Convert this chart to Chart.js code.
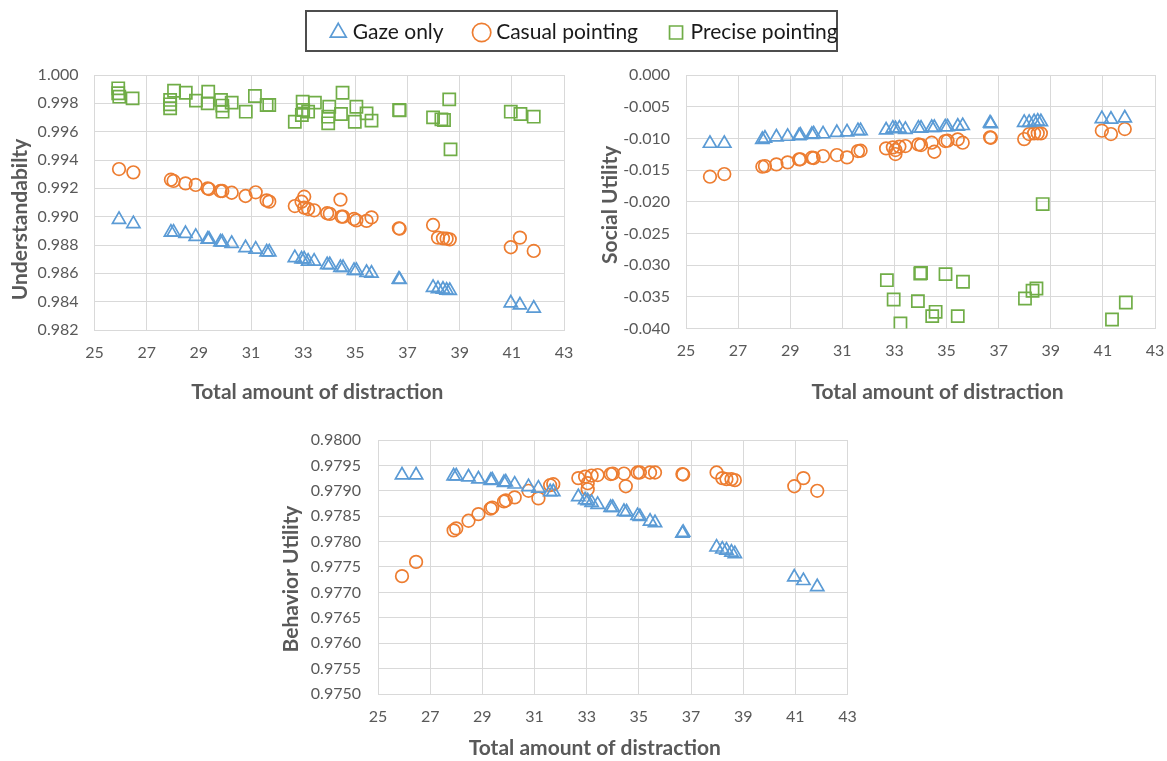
<!DOCTYPE html>
<html><head><meta charset="utf-8">
<script src="https://cdn.jsdelivr.net/npm/chart.js@4.4.1/dist/chart.umd.min.js"></script>
<style>
html,body{margin:0;padding:0;background:#fff}
body{width:1167px;height:761px;overflow:hidden;position:relative;font-family:Lato,sans-serif}
canvas{position:absolute;display:block}
#legendBox{position:absolute;left:305px;top:10px;width:529px;height:38px;border:2px solid #4d4d4d;background:#fff}
</style></head><body>
<div id="legendBox"></div>
<canvas id="lg" width="600" height="200" style="left:286px;top:-12px"></canvas>
<canvas id="c1" width="580" height="360" style="left:0px;top:60px"></canvas>
<canvas id="c2" width="577" height="360" style="left:590px;top:60px"></canvas>
<canvas id="c3" width="600" height="341" style="left:270px;top:420px"></canvas>
<script>
// ---------- data ----------
const seriesNames = ['Gaze only', 'Casual pointing', 'Precise pointing'];
const xTickValues = [25, 27, 29, 31, 33, 35, 37, 39, 41, 43];
const understandTicks = [0.982, 0.984, 0.986, 0.988, 0.990, 0.992, 0.994, 0.996, 0.998, 1.000];
const socialTicks = [-0.040, -0.035, -0.030, -0.025, -0.020, -0.015, -0.010, -0.005, 0.000];
const behaviorTicks = [0.9750, 0.9755, 0.9760, 0.9765, 0.9770, 0.9775, 0.9780, 0.9785, 0.9790, 0.9795, 0.9800];

// Understandability
const understandGaze = [
[25.94,0.9898],[26.49,0.9895],[27.93,0.9889],[28.03,0.9889],[28.49,0.9888],[28.88,0.9886],
[29.34,0.9884],[29.39,0.9884],[29.83,0.9882],[29.90,0.9882],[30.26,0.9881],[30.79,0.9878],
[31.18,0.9877],[31.60,0.9875],[31.70,0.9875],[32.68,0.9871],[32.94,0.9870],[33.04,0.9870],
[33.19,0.98685],[33.42,0.98685],[33.92,0.9866],[34.02,0.9866],[34.43,0.9864],[34.53,0.9864],
[34.95,0.9862],[35.04,0.9862],[35.43,0.98605],[35.62,0.9860],[36.67,0.98558],[36.70,0.98555],
[37.98,0.9850],[38.17,0.9849],[38.36,0.98487],[38.50,0.9848],[38.62,0.98478],
[40.96,0.9839],[41.31,0.98376],[41.84,0.98353]];
const understandCasual = [
[25.94,0.99336],[26.49,0.99313],[27.93,0.99261],[28.03,0.99252],[28.49,0.99235],[28.88,0.99224],
[29.34,0.99200],[29.39,0.99195],[29.83,0.99181],[29.90,0.99181],[30.26,0.99169],[30.79,0.99146],
[31.18,0.99172],[31.60,0.99115],[31.70,0.99106],[32.68,0.99075],[32.94,0.99106],[33.04,0.99141],
[33.04,0.99064],[33.19,0.99054],[33.42,0.99045],[33.92,0.99024],[34.02,0.99020],[34.43,0.99120],
[34.47,0.99000],[34.53,0.99000],[34.95,0.98984],[35.04,0.98974],[35.43,0.98970],[35.62,0.98995],
[36.67,0.98918],[36.70,0.98915],[37.98,0.98941],[38.17,0.98852],[38.36,0.98847],[38.50,0.98845],
[38.62,0.98840],[40.96,0.98784],[41.31,0.98852],[41.84,0.98758]];
const understandPrecise = [
[25.91,0.99906],[25.91,0.99871],[25.95,0.99847],[26.46,0.99835],[27.90,0.99824],[27.90,0.99793],
[27.90,0.99765],[28.05,0.99889],[28.50,0.99875],[28.89,0.99819],[29.36,0.99882],[29.34,0.99800],
[29.85,0.99824],[29.90,0.99784],[29.91,0.99741],[30.26,0.99805],[30.80,0.99741],[31.15,0.99852],
[31.60,0.99788],[31.70,0.99788],[32.68,0.99670],[32.98,0.99812],[33.00,0.99753],[32.95,0.99718],
[33.19,0.99741],[33.45,0.99805],[33.96,0.99706],[33.96,0.99659],[34.00,0.99776],[34.51,0.99875],
[34.45,0.99725],[34.98,0.99670],[35.04,0.99776],[35.43,0.99729],[35.62,0.99678],[36.68,0.99753],
[36.70,0.99750],[37.98,0.99701],[38.30,0.99687],[38.40,0.99682],[38.60,0.99828],[38.65,0.99475],
[40.96,0.99741],[41.33,0.99725],[41.84,0.99706]];

// Social Utility
const socialGaze = [
[25.92,-0.0108],[26.47,-0.0108],[27.93,-0.0102],[28.03,-0.0100],[28.47,-0.0098],[28.90,-0.0097],
[29.34,-0.0096],[29.39,-0.0095],[29.83,-0.0094],[29.90,-0.0093],[30.26,-0.0093],[30.79,-0.0091],
[31.18,-0.0090],[31.60,-0.0088],[31.70,-0.0088],[32.68,-0.0087],[32.94,-0.0084],[33.04,-0.0085],
[33.19,-0.0084],[33.42,-0.0086],[33.92,-0.0084],[34.02,-0.0084],[34.43,-0.0083],[34.53,-0.0083],
[34.95,-0.0082],[35.04,-0.0082],[35.43,-0.0081],[35.62,-0.0080],[36.67,-0.0076],[36.70,-0.0077],
[37.98,-0.0075],[38.17,-0.0075],[38.36,-0.0074],[38.50,-0.0073],[38.62,-0.0074],
[40.96,-0.0069],[41.31,-0.0070],[41.84,-0.0068]];
const socialCasual = [
[25.92,-0.01605],[26.47,-0.01563],[27.93,-0.01447],[28.03,-0.01437],[28.47,-0.01411],[28.90,-0.01379],
[29.34,-0.01332],[29.39,-0.01330],[29.83,-0.01305],[29.90,-0.01310],[30.26,-0.01279],[30.79,-0.01263],
[31.18,-0.01300],[31.60,-0.01200],[31.70,-0.01195],[32.68,-0.01158],[32.94,-0.01142],[33.04,-0.01184],
[33.04,-0.01247],[33.19,-0.01130],[33.42,-0.01121],[33.92,-0.01095],[34.02,-0.01105],[34.43,-0.01068],
[34.53,-0.01211],[34.95,-0.01042],[35.04,-0.01037],[35.43,-0.01016],[35.62,-0.01068],[36.67,-0.00984],
[36.70,-0.00990],[37.98,-0.01011],[38.17,-0.00932],[38.36,-0.00921],[38.50,-0.00920],[38.62,-0.00921],
[40.96,-0.00879],[41.31,-0.00932],[41.84,-0.00853]];
const socialPrecise = [
[32.71,-0.03237],[32.97,-0.03542],[33.23,-0.03921],[33.90,-0.03568],[33.99,-0.03132],[34.02,-0.03125],
[34.45,-0.03805],[34.58,-0.03737],[34.96,-0.03142],[35.43,-0.03805],[35.63,-0.03263],[38.01,-0.03526],
[38.30,-0.03405],[38.45,-0.03368],[38.69,-0.02037],[41.35,-0.03858],[41.88,-0.03589]];

// Behavior Utility
const behaviorGaze = [
[25.92,0.97931],[26.46,0.97931],[27.90,0.97929],[28.00,0.97929],[28.47,0.97927],[28.85,0.97923],
[29.32,0.97920],[29.38,0.97921],[29.83,0.97916],[29.90,0.97917],[30.24,0.97913],[30.77,0.97908],
[31.15,0.97905],[31.60,0.97898],[31.72,0.97898],[32.68,0.97888],[32.94,0.97882],[33.04,0.97880],
[33.19,0.97877],[33.42,0.97873],[33.92,0.97867],[34.00,0.97867],[34.43,0.97859],[34.53,0.97858],
[34.95,0.97851],[35.04,0.97849],[35.43,0.97840],[35.62,0.97837],[36.67,0.97816],[36.70,0.97818],
[37.98,0.97789],[38.20,0.97785],[38.36,0.97783],[38.55,0.97779],[38.68,0.97776],
[40.96,0.97730],[41.31,0.97723],[41.84,0.97711]];
const behaviorCasual = [
[25.92,0.97732],[26.46,0.97760],[27.90,0.97822],[28.00,0.97826],[28.47,0.97841],[28.85,0.97854],
[29.32,0.97865],[29.38,0.97867],[29.83,0.97879],[29.90,0.97881],[30.24,0.97887],[30.77,0.97900],
[31.15,0.97885],[31.60,0.97911],[31.72,0.97913],[32.68,0.97925],[32.94,0.97928],[33.04,0.97915],
[33.04,0.97903],[33.19,0.97930],[33.42,0.97931],[33.92,0.97933],[34.00,0.97934],[34.43,0.97934],
[34.50,0.97909],[34.95,0.97936],[35.04,0.97936],[35.43,0.97936],[35.62,0.97936],[36.67,0.97933],
[36.70,0.97932],[37.98,0.97936],[38.20,0.97925],[38.36,0.97923],[38.55,0.97923],[38.68,0.97921],
[40.96,0.97909],[41.31,0.97925],[41.84,0.97900]];

// ---------- styles ----------
const FONT = 'Lato';
const TICK_COLOR = '#595959';
const GRID = '#d9d9d9';
const seriesStyle = [
  {pointStyle:'triangle', pointRadius:7.6, borderColor:'#5B9BD5'},
  {pointStyle:'circle', pointRadius:6.3, borderColor:'#ED7D31'},
  {pointStyle:'rect', pointRadius:8.6, borderColor:'#70AD47'}
];
function ds(i, pts) {
  const s = seriesStyle[i];
  return {
    label: seriesNames[i],
    data: pts.map(p => ({x: p[0], y: p[1]})),
    pointStyle: s.pointStyle, pointRadius: s.pointRadius, pointHoverRadius: s.pointRadius,
    borderColor: s.borderColor, backgroundColor: 'rgba(0,0,0,0)',
    pointBorderWidth: 1.7, borderWidth: 1.7, showLine: false
  };
}
Chart.defaults.font.family = FONT;
Chart.defaults.animation = false;

// shift an axis title by (dx, dy) while letting Chart.js draw it
function shiftTitle(s, dx, dy) {
  if (s._shiftDone) return;
  s._shiftDone = true;
  const base = Object.getPrototypeOf(s).drawTitle;
  s.drawTitle = function () {
    const c = this.ctx; c.save(); c.translate(dx, dy); base.call(this); c.restore();
  };
}
function noEdgePadding(s) {
  s.paddingTop = 0; s.paddingBottom = 0; s.paddingLeft = 0; s.paddingRight = 0;
}

function makeChart(id, datasets, yTicks, digits, yTitle, g) {
  return new Chart(document.getElementById(id), {
    type: 'scatter',
    data: {datasets},
    options: {
      responsive: false, animation: false, events: [],
      layout: {padding: g.pad},
      plugins: {legend: {display: false}, tooltip: {enabled: false}},
      scales: {
        x: {
          type: 'linear', min: xTickValues[0], max: xTickValues[xTickValues.length - 1],
          afterBuildTicks: s => { s.ticks = xTickValues.map(v => ({value: v})); },
          afterFit: s => { s.height = g.xh; noEdgePadding(s); shiftTitle(s, g.xdx, 0); },
          ticks: {padding: g.xtp, color: TICK_COLOR, font: {size: 16}, callback: v => String(v), maxRotation: 0, autoSkip: false},
          grid: {color: GRID, drawTicks: false},
          border: {color: GRID},
          title: {display: true, text: 'Total amount of distraction', color: TICK_COLOR,
                  font: {size: 21, weight: 'bold'}, padding: {top: 0, bottom: g.xtitle}}
        },
        y: {
          type: 'linear', min: yTicks[0], max: yTicks[yTicks.length - 1],
          afterBuildTicks: s => { s.ticks = yTicks.map(v => ({value: v})); },
          afterFit: s => { s.width = g.yw; noEdgePadding(s); shiftTitle(s, 0, g.ydy); },
          ticks: {padding: g.ytp, color: TICK_COLOR, font: {size: 16}, callback: v => Number(v).toFixed(digits), autoSkip: false},
          grid: {color: GRID, drawTicks: false},
          border: {color: GRID},
          title: {display: true, text: yTitle, color: TICK_COLOR,
                  font: {size: 21, weight: 'bold'}, padding: {top: g.ytitle, bottom: 0}}
        }
      }
    }
  });
}

makeChart('c1', [ds(0, understandGaze), ds(1, understandCasual), ds(2, understandPrecise)],
  understandTicks, 3, 'Understandabilty',
  {pad: {left: 0, top: 15, right: 16, bottom: 0}, yw: 94.5, xh: 90, xtp: 13, ytp: 16,
   xtitle: 14.7, ytitle: 7.4, xdx: -12, ydy: 17});

makeChart('c2', [ds(0, socialGaze), ds(1, socialCasual), ds(2, socialPrecise)],
  socialTicks, 3, 'Social Utility',
  {pad: {left: 0, top: 15, right: 12, bottom: 0}, yw: 96, xh: 91.5, xtp: 13, ytp: 16,
   xtitle: 14.7, ytitle: 7.4, xdx: 17, ydy: 3});

makeChart('c3', [ds(0, behaviorGaze), ds(1, behaviorCasual)],
  behaviorTicks, 4, 'Behavior Utility',
  {pad: {left: 0, top: 20, right: 22.5, bottom: 0}, yw: 108, xh: 67, xtp: 13, ytp: 17,
   xtitle: 0, ytitle: 8.4, xdx: -18, ydy: 12});

// legend-only chart
new Chart(document.getElementById('lg'), {
  type: 'scatter',
  data: {datasets: [ds(0, []), ds(1, []), ds(2, [])]},
  options: {
    responsive: false, animation: false, events: [],
    layout: {padding: 0},
    scales: {x: {display: false}, y: {display: false}},
    plugins: {
      tooltip: {enabled: false},
      legend: {display: true, position: 'top',
        labels: {usePointStyle: true, boxWidth: 8, boxHeight: 13, padding: 34,
                 color: '#1a1a1a', font: {family: FONT, size: 21}}}
    }
  }
});
</script>
</body></html>
